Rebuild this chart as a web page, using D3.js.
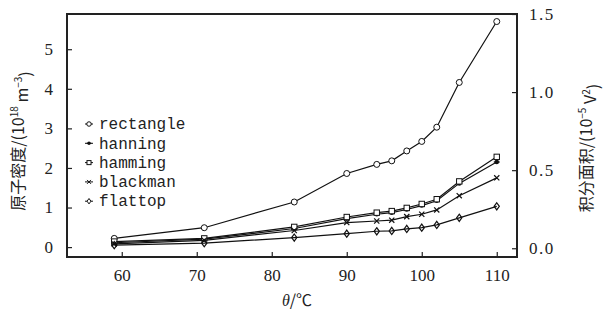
<!DOCTYPE html>
<meta charset="utf-8">
<script src="https://cdn.jsdelivr.net/npm/d3@7"></script>
<style>
body { margin: 0; background: #fff; }
text { fill: #222; }
.series path { fill: none; stroke: #111; stroke-width: 1.2px; }
.num { font-family: "Liberation Serif", "DejaVu Serif", serif; }
</style>
<body>
<script>

// temperatures (deg C)
var temps = [59, 71, 83, 90, 94, 96, 98, 100, 102, 105, 110];

var names = ["rectangle", "hanning", "hamming", "blackman", "flattop"];

// atom density, 10^18 m^-3
var rectangle = [0.22, 0.49, 1.14, 1.86, 2.09, 2.18, 2.43, 2.67, 3.03, 4.16, 5.70];
var hanning   = [0.11, 0.20, 0.47, 0.72, 0.83, 0.87, 0.95, 1.05, 1.17, 1.61, 2.15];
var hamming   = [0.14, 0.22, 0.51, 0.76, 0.87, 0.91, 0.99, 1.09, 1.21, 1.66, 2.28];
var blackman  = [0.08, 0.17, 0.42, 0.62, 0.66, 0.68, 0.77, 0.83, 0.94, 1.30, 1.75];
var flattop   = [0.05, 0.10, 0.24, 0.34, 0.40, 0.41, 0.46, 0.49, 0.56, 0.74, 1.03];

var leftTicks = [0, 1, 2, 3, 4, 5];
var rightTicks = [0.0, 0.5, 1.0, 1.5];
var xTicks = [60, 70, 80, 90, 100, 110];

var allSeries = [rectangle, hanning, hamming, blackman, flattop];

var width = 610, height = 320;
var margin = {left: 67, right: 93, top: 14, bottom: 63};

var svg = d3.select("body").append("svg")
    .attr("width", width)
    .attr("height", height);

var x = d3.scaleLinear().domain([52.7, 112.7]).range([margin.left, width - margin.right]);
var y = d3.scaleLinear().domain([-0.25, 5.89]).range([height - margin.bottom, margin.top]);
var y2 = d3.scaleLinear().domain([-0.056, 1.5]).range([height - margin.bottom, margin.top]);

// axes, ticks pointing inward
var xAxis = svg.append("g")
    .attr("transform", "translate(0," + (height - margin.bottom) + ")")
    .call(d3.axisBottom(x).tickValues(xTicks).tickSizeInner(-5).tickSizeOuter(0).tickPadding(12));
var yAxis = svg.append("g")
    .attr("transform", "translate(" + margin.left + ",0)")
    .call(d3.axisLeft(y).tickValues(leftTicks).tickFormat(d3.format("d")).tickSizeInner(-5).tickSizeOuter(0).tickPadding(14));
var y2Axis = svg.append("g")
    .attr("transform", "translate(" + (width - margin.right) + ",0)")
    .call(d3.axisRight(y2).tickValues(rightTicks).tickFormat(d3.format(".1f")).tickSizeInner(-5).tickSizeOuter(0).tickPadding(12));

[xAxis, yAxis, y2Axis].forEach(function(a) {
  a.attr("font-family", null).attr("font-size", 17);
  a.select(".domain").remove();
  a.selectAll(".tick line").attr("stroke", "#222").attr("stroke-width", 1.2);
  a.selectAll(".tick text").attr("fill", "#222").attr("class", "num");
});
y2Axis.selectAll(".tick text").attr("letter-spacing", "1.5px");

// frame
svg.append("rect")
    .attr("x", margin.left)
    .attr("y", margin.top)
    .attr("width", width - margin.left - margin.right)
    .attr("height", height - margin.top - margin.bottom)
    .attr("fill", "none")
    .attr("stroke", "#222")
    .attr("stroke-width", 2);

// markers
function marker(g, k, s) {
  if (k == 0) {
    g.append("circle").attr("r", 3 * s).attr("fill", "#fff").attr("stroke", "#111").attr("stroke-width", 1);
  } else if (k == 1) {
    g.append("circle").attr("r", 2.3 * s).attr("fill", "#111");
    g.append("path").attr("d", "M" + (-3 * s) + ",0H" + (3 * s)).attr("stroke", "#111").attr("stroke-width", 1);
  } else if (k == 2) {
    g.append("rect").attr("x", -2.7 * s).attr("y", -2.7 * s).attr("width", 5.4 * s).attr("height", 5.4 * s)
      .attr("fill", "#fff").attr("stroke", "#111").attr("stroke-width", 1);
  } else if (k == 3) {
    g.append("path").attr("d", "M-2.6,-2.6L2.6,2.6M-2.6,2.6L2.6,-2.6").attr("transform", "scale(" + s + ")")
      .attr("stroke", "#111").attr("stroke-width", 1 / s);
  } else {
    g.append("path").attr("d", "M0,-3.6L2.6,0L0,3.6L-2.6,0Z").attr("transform", "scale(" + s + ")")
      .attr("fill", "#fff").attr("stroke", "#111").attr("stroke-width", 1 / s);
  }
}

var line = d3.line()
    .x(function(d, i) { return x(temps[i]); })
    .y(function(d) { return y(d); });

allSeries.forEach(function(s, k) {
  var g = svg.append("g").attr("class", "series");
  g.append("path").attr("d", line(s));
  s.forEach(function(v, i) {
    var m = g.append("g").attr("transform", "translate(" + x(temps[i]) + "," + y(v) + ")");
    marker(m, k, 1);
  });
});

// legend
var legend = svg.append("g");
names.forEach(function(n, k) {
  var gy = 124 + k * 19.3;
  legend.append("path").attr("d", "M85," + gy + "H93").attr("stroke", "#111").attr("stroke-width", 1);
  var m = legend.append("g").attr("transform", "translate(89," + gy + ")");
  marker(m, k, 0.75);
  legend.append("text")
    .attr("x", 99).attr("y", gy).attr("dy", "0.33em")
    .attr("font-family", "'Liberation Mono', monospace")
    .attr("font-size", 16)
    .text(n);
});

// axis titles
function title(tx, pre, sup1, mid, sup2) {
  var t = svg.append("text")
      .attr("transform", tx)
      .attr("text-anchor", "middle")
      .attr("font-family", "'Noto Sans CJK SC', sans-serif")
      .attr("font-size", 16);
  t.append("tspan").text(pre);
  t.append("tspan").attr("font-size", 10).attr("dy", "-0.6em").text(sup1);
  t.append("tspan").attr("dy", "0.6em").text(mid);
  t.append("tspan").attr("font-size", 10).attr("dy", "-0.6em").text(sup2);
  t.append("tspan").attr("dy", "0.6em").text(")");
}
title("translate(24,141) rotate(-90)", "原子密度/(10", "18", " m", "−3");
title("translate(592,148) rotate(-90)", "积分面积/(10", "−5", " V", "2");

var xt = svg.append("text")
    .attr("x", 297).attr("y", 306)
    .attr("text-anchor", "middle")
    .attr("font-family", "'Noto Sans CJK SC', sans-serif")
    .attr("font-size", 16);
xt.append("tspan").attr("font-style", "italic").attr("class", "num").text("θ");
xt.append("tspan").text("/℃");

</script>
</body>
